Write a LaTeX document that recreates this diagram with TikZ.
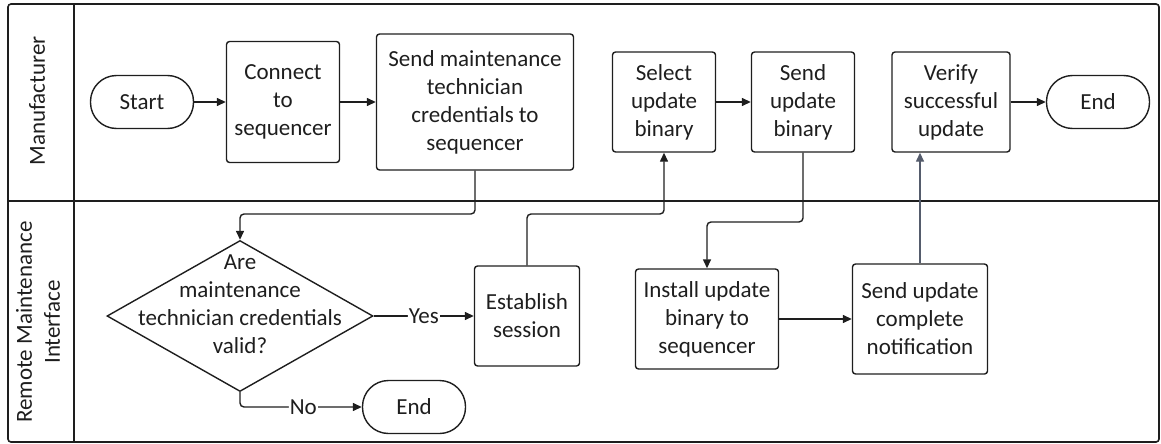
\documentclass[tikz,border=0pt]{standalone}
\usepackage{fontspec}
\setmainfont{Carlito}
\usetikzlibrary{positioning}
\usetikzlibrary{calc}
\usetikzlibrary{arrows.meta}
\usetikzlibrary{shapes.geometric}
\definecolor{mink}{RGB}{30,30,30}
\definecolor{mgray}{RGB}{85,92,108}

\begin{document}
\begin{tikzpicture}[x=1pt, y=-1pt,
    font=\fontsize{23}{28}\selectfont, text=mink,
    process/.style={draw=mink, line width=1.4pt, rounded corners=3pt, align=center, inner sep=2pt},
    terminal/.style={draw=mink, line width=1.4pt, rounded corners=26pt, minimum width=103pt, minimum height=53pt},
    decision/.style={draw=mink, line width=1.4pt, diamond, minimum width=266pt, minimum height=151pt, inner sep=0pt},
    arrow/.style={-{Triangle[length=9pt,width=8pt]}, line width=1.4pt, draw=mink, rounded corners=4pt},
    lbl/.style={fill=white, inner sep=1pt},
    lane/.style={draw=mink, line width=1.6pt},
]
\useasboundingbox (0,0) rectangle (1161,444);

% swimlanes
\draw[lane, rounded corners=3pt] (8,4) rectangle (1159,442);
\draw[lane] (74,4) -- (74,442);
\draw[lane] (8,201) -- (1159,201);
\node[rotate=90] (manulane) at (37,101) {Manufacturer};
\node[rotate=90, align=center] (rmilane) at (38,322) {Remote Maintenance\\Interface};

% manufacturer lane
\node[terminal] (start) at (142,102) {Start};
\node[process, minimum width=113pt, minimum height=121pt] (connect) at (283,102) {Connect\\to\\sequencer};
\node[process, minimum width=197pt, minimum height=136pt] (sendcred) at (475,102) {Send maintenance\\technician\\credentials to\\sequencer};
\node[process, minimum width=103pt, minimum height=100pt] (select) at (664,102) {Select\\update\\binary};
\node[process, minimum width=103pt, minimum height=100pt] (sendbin) at (803,102) {Send\\update\\binary};
\node[process, minimum width=118pt, minimum height=100pt] (verify) at (951,102) {Verify\\successful\\update};
\node[terminal] (endtop) at (1098,102) {End};

% remote maintenance interface lane
\node[decision] (valid) at (240,316) {};
\node[align=center] (validtext) at (240,304) {Are\\maintenance\\technician credentials\\valid?};
\node[process, minimum width=105pt, minimum height=100pt] (session) at (527,316) {Establish\\session};
\node[process, minimum width=143pt, minimum height=100pt] (install) at (707,319) {Install update\\binary to\\sequencer};
\node[process, minimum width=135pt, minimum height=110pt] (notify) at (920,319) {Send update\\complete\\notification};
\node[terminal] (endlow) at (414,407) {End};

\draw[arrow] (start) -- (connect);
\draw[arrow] (connect) -- (connect -| sendcred.west);
\draw[arrow] (select) -- (sendbin);
\draw[arrow] (verify) -- (endtop);
\draw[arrow] (install) -- (install -| notify.west);

\coordinate (credturn) at (sendcred.south |- 0,214);
\coordinate (sessturn) at (session.north |- 0,214);
\coordinate (binturn) at (sendbin.south |- 0,222);

\draw[arrow] (sendcred.south) -- (credturn) -| (valid.north);
\draw[arrow] (session.north) -- (sessturn) -| (select.south);
\draw[arrow] (sendbin.south) -- (binturn) -| (install.north);
\draw[arrow, draw=mgray] (notify.north) -- (notify.north |- verify.south);
\draw[arrow] (valid.east) -- node[lbl] {Yes} (session.west);
\draw[arrow] (valid.south) |- node[lbl, pos=0.76] {No} (endlow.west);
\end{tikzpicture}
\end{document}
